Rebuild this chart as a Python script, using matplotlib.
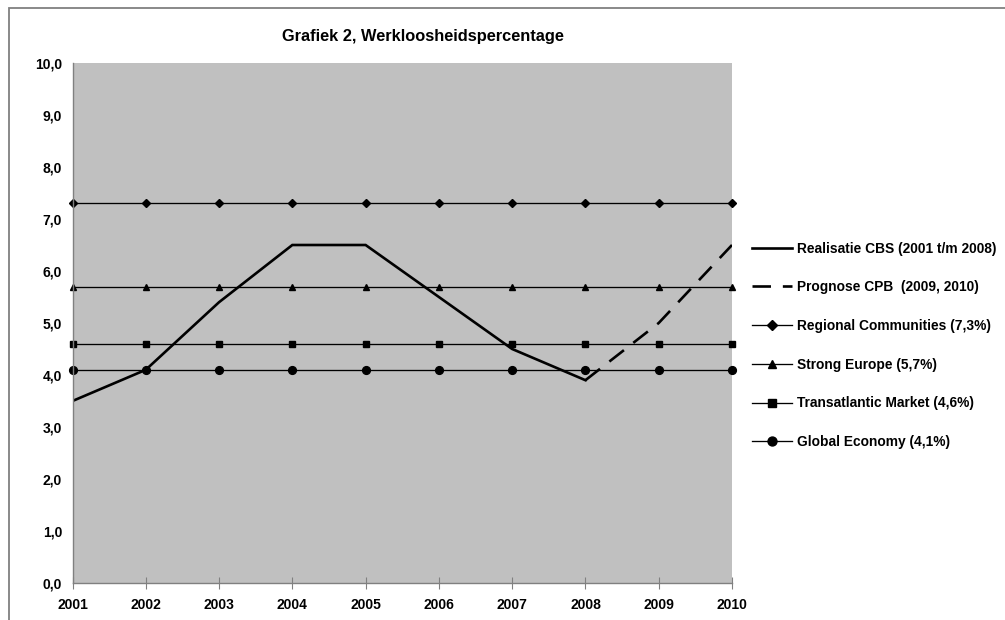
import matplotlib
matplotlib.use("Agg")
import matplotlib.pyplot as plt
from matplotlib.patches import Rectangle

plt.rcParams['font.family'] = ['Liberation Sans', 'DejaVu Sans']

years = [2001, 2002, 2003, 2004, 2005, 2006, 2007, 2008, 2009, 2010]
realisatie_years = [2001, 2002, 2003, 2004, 2005, 2006, 2007, 2008]
realisatie = [3.5, 4.1, 5.4, 6.5, 6.5, 5.5, 4.5, 3.9]
prognose_years = [2008, 2009, 2010]
prognose = [3.9, 5.0, 6.5]
regional = [7.3] * 10
strong = [5.7] * 10
transatlantic = [4.6] * 10
global_econ = [4.1] * 10
yticks = [0, 1, 2, 3, 4, 5, 6, 7, 8, 9, 10]
ytick_labels = ["0,0", "1,0", "2,0", "3,0", "4,0", "5,0", "6,0", "7,0", "8,0", "9,0", "10,0"]

labels = ["Realisatie CBS (2001 t/m 2008)",
          "Prognose CPB  (2009, 2010)",
          "Regional Communities (7,3%)",
          "Strong Europe (5,7%)",
          "Transatlantic Market (4,6%)",
          "Global Economy (4,1%)"]

W, H = 1005, 620
fig = plt.figure(figsize=(W / 100, H / 100), dpi=100)
fig.patch.set_facecolor('white')

# outer chart border (extends beyond image at right/bottom)
fig.add_artist(Rectangle((9 / W, -0.1), 1.2, 1 - 7.5 / H + 0.1, transform=fig.transFigure,
                         fill=False, edgecolor='#808080', linewidth=1.3))

ax = fig.add_axes([72.5 / W, (H - 583) / H, (732 - 72.5) / W, (583 - 63) / H])
ax.set_facecolor('#C0C0C0')

lw_thin = 0.95
l3, = ax.plot(years, regional, color='black', lw=lw_thin, marker='D', markersize=4.0, clip_on=False)
l4, = ax.plot(years, strong, color='black', lw=lw_thin, marker='^', markersize=4.8, clip_on=False)
l5, = ax.plot(years, transatlantic, color='black', lw=lw_thin, marker='s', markersize=4.6, clip_on=False)
l6, = ax.plot(years, global_econ, color='black', lw=lw_thin, marker='o', markersize=5.6, clip_on=False)
l1, = ax.plot(realisatie_years, realisatie, color='black', lw=1.9, solid_joinstyle='miter')
l2, = ax.plot(prognose_years, prognose, color='black', lw=1.9, dashes=(7, 4.5))

ax.set_xlim(2001, 2010)
ax.set_ylim(0, 10)
ax.set_xticks(years)
ax.set_xticklabels([str(y) for y in years], fontsize=10, fontweight='bold')
ax.set_yticks(yticks)
ax.set_yticklabels(ytick_labels, fontsize=10, fontweight='bold')
for s in ['top', 'right']:
    ax.spines[s].set_visible(False)
for s in ['left', 'bottom']:
    ax.spines[s].set_color('#808080')
    ax.spines[s].set_linewidth(1.0)
ax.tick_params(axis='x', direction='inout', length=8, color='#808080', pad=7)
ax.tick_params(axis='y', direction='out', length=0, pad=7.5)

fig.text(423 / W, 1 - 36 / H, "Grafiek 2, Werkloosheidspercentage", ha='center', va='center',
         fontsize=11.8, fontweight='bold')

leg = fig.legend([l1, l2, l3, l4, l5, l6], labels, loc='upper left',
                 bbox_to_anchor=(746 / W, 1 - 236 / H), frameon=False,
                 prop={'weight': 'bold', 'size': 9.9}, handlelength=2.98,
                 labelspacing=1.8, handletextpad=0.36, borderaxespad=0,
                 markerscale=1.15)

fig.savefig('out.png', dpi=100)
